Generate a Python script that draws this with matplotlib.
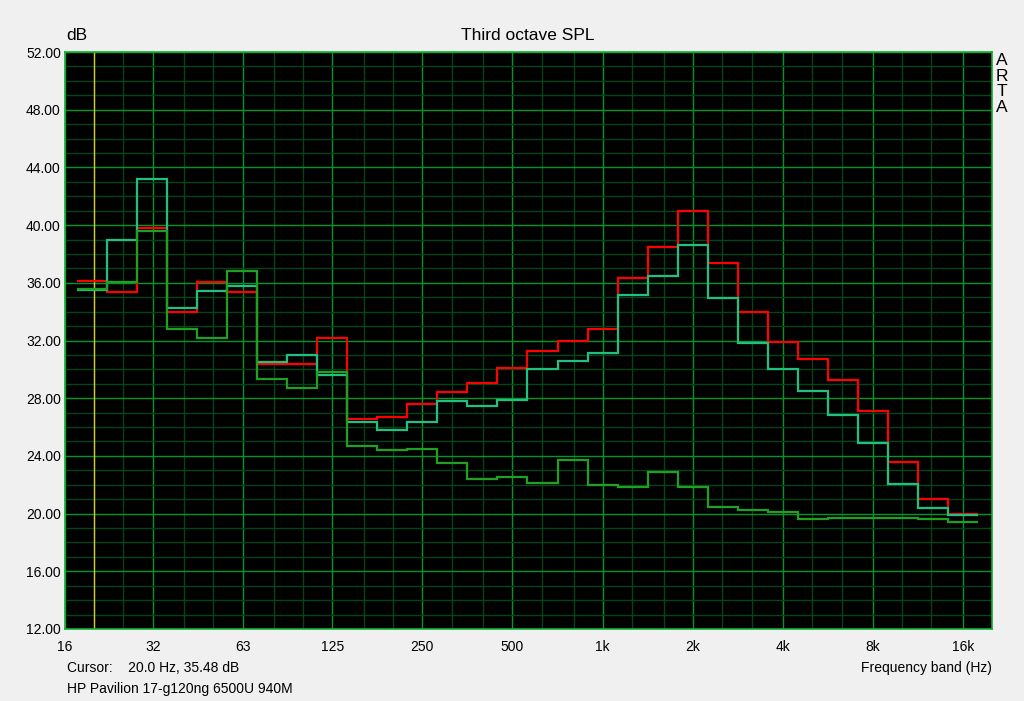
# ARTA style third octave SPL plot

import matplotlib.pyplot as plt
import numpy as np
from matplotlib.ticker import FixedLocator, NullFormatter

# third octave bands (nominal), 20 Hz .. 16 kHz
bands = [20, 25, 31.5, 40, 50, 63, 80, 100, 125, 160, 200, 250, 315, 400, 500,
         630, 800, 1000, 1250, 1600, 2000, 2500, 3150, 4000, 5000, 6300, 8000,
         10000, 12500, 16000]
band_index = list(range(-17, 13))  # n in 1000*2^(n/3)

red = [36.15, 35.38, 39.82, 34.0, 36.06, 35.38, 30.35, 30.4, 32.17, 26.56,
       26.72, 27.6, 28.43, 29.08, 30.1, 31.29, 31.99, 32.82, 36.33, 38.48,
       41.0, 37.4, 33.98, 31.92, 30.72, 29.29, 27.13, 23.6, 21.03, 20.0]
teal = [35.48, 38.97, 43.2, 34.28, 35.45, 35.8, 30.53, 31.02, 29.63, 26.37,
        25.82, 26.37, 27.83, 27.49, 27.9, 30.02, 30.6, 31.15, 35.15, 36.5,
        38.64, 34.93, 31.85, 30.02, 28.52, 26.86, 24.92, 22.07, 20.41, 19.93]
green = [35.55, 36.08, 39.61, 32.82, 32.2, 36.84, 29.35, 28.73, 29.79, 24.69,
         24.43, 24.5, 23.53, 22.42, 22.56, 22.14, 23.74, 21.96, 21.82, 22.88,
         21.82, 20.48, 20.27, 20.09, 19.65, 19.72, 19.72, 19.72, 19.65, 19.44]

major_f = [16, 31.5, 63, 125, 250, 500, 1000, 2000, 4000, 8000, 16000]
major_lbl = ['16', '32', '63', '125', '250', '500', '1k', '2k', '4k', '8k', '16k']
minor_f = [f for f in bands if f not in major_f]
yticks = list(range(12, 53, 4))

plt.rcParams['font.family'] = ['Liberation Sans', 'DejaVu Sans']

fig = plt.figure(figsize=(10.24, 7.01), dpi=100, facecolor='#f0f0f0')
ax = fig.add_axes([65/1024, 1-629/701, 927/1024, 577/701])
ax.set_facecolor('black')

n = np.array(band_index)
edges = np.append(1000*2**((n-0.5)/3), 1000*2**((n[-1]+0.5)/3))

# cursor line
ax.axvline(20, color='#d8c830', lw=1, zorder=2)

ax.stairs(red, edges, baseline=None, color='#ff0000', lw=1.6, zorder=3)
ax.stairs(teal, edges, baseline=None, color='#20c080', lw=1.6, zorder=4)
ax.stairs(green, edges, baseline=None, color='#20a020', lw=1.6, zorder=5)

ax.set_xscale('log')
ax.set_xlim(16, 20000)
ax.set_ylim(12, 52)
ax.xaxis.set_major_locator(FixedLocator(major_f))
ax.xaxis.set_minor_locator(FixedLocator(minor_f))
ax.xaxis.set_minor_formatter(NullFormatter())
ax.set_xticklabels(major_lbl)
ax.set_yticks(yticks)
ax.set_yticklabels(['%.2f' % v for v in yticks])
ax.yaxis.set_minor_locator(FixedLocator(range(12, 53)))
ax.tick_params(which='both', length=0, labelsize=10, colors='black')
ax.tick_params(axis='x', pad=8)
ax.tick_params(axis='y', pad=3)
ax.grid(which='major', color='#00962a', lw=1, zorder=1)
ax.grid(which='minor', color='#00461a', lw=1, zorder=1)
ax.set_axisbelow(True)
for s in ax.spines.values():
    s.set_color('#10b030')
    s.set_linewidth(1.2)

fig.text(66/1024, 1-36/701, 'dB', fontsize=12.5, va='center', ha='left')
fig.text(528/1024, 1-36/701, 'Third octave SPL', fontsize=12.5, va='center', ha='center')
fig.text(1002/1024, 1-84/701, 'A\nR\nT\nA', fontsize=12.5, va='center', ha='center',
         linespacing=1.05)
fig.text(67/1024, 1-668/701, 'Cursor:    20.0 Hz, 35.48 dB', fontsize=10, va='center')
fig.text(992/1024, 1-668/701, 'Frequency band (Hz)', fontsize=10, va='center', ha='right')
fig.text(67/1024, 1-689/701, 'HP Pavilion 17-g120ng 6500U 940M', fontsize=10, va='center')

plt.savefig('out.png', dpi=100, facecolor=fig.get_facecolor())
